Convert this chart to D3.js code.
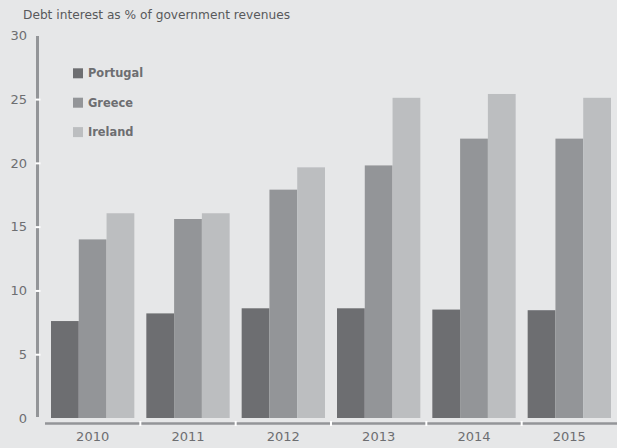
<!DOCTYPE html>
<html>
<head>
<meta charset="utf-8">
<script src="https://cdn.jsdelivr.net/npm/d3@7"></script>
<style>
  html, body { margin: 0; padding: 0; background: #e6e7e8; }
  svg { display: block; }
  text { font-family: "DejaVu Sans", sans-serif; }
</style>
</head>
<body>
<svg id="chart" width="617" height="448"></svg>
<script>
// Debt interest as a share of government revenues, 2010–2015
const years = ["2010", "2011", "2012", "2013", "2014", "2015"];
const countries = ["Portugal", "Greece", "Ireland"];
const portugal = [7.6, 8.2, 8.6, 8.6, 8.5, 8.45];
const greece   = [14.0, 15.6, 17.9, 19.8, 21.9, 21.9];
const ireland  = [16.05, 16.05, 19.65, 25.1, 25.4, 25.1];
const yTicks = [0, 5, 10, 15, 20, 25, 30];
const colors = ["#6d6e71", "#939598", "#bcbec0"];

const seriesValues = [portugal, greece, ireland];
const rows = years.map((y, i) => ({
  year: y,
  values: countries.map((c, j) => ({ country: c, value: seriesValues[j][i] }))
}));

const W = 617, H = 448;
const svg = d3.select("#chart");
svg.append("rect").attr("width", W).attr("height", H).attr("fill", "#e6e7e8");

const x0 = d3.scaleBand().domain(years).range([45, 617]).paddingInner(0).paddingOuter(0);
const x1 = d3.scaleBand().domain(countries).range([0, x0.bandwidth()]).paddingOuter(0.216).paddingInner(0);
const y = d3.scaleLinear().domain([0, 30]).range([418, 35.3]);

// Title
svg.append("text")
  .attr("x", 23).attr("y", 19)
  .attr("font-size", 12.2)
  .attr("fill", "#58595b")
  .text("Debt interest as % of government revenues");

// Bars
const groups = svg.append("g").selectAll("g").data(rows).join("g")
  .attr("transform", d => `translate(${x0(d.year)},0)`);
groups.selectAll("rect").data(d => d.values).join("rect")
  .attr("x", d => x1(d.country))
  .attr("width", x1.bandwidth())
  .attr("y", d => y(d.value))
  .attr("height", d => y(0) - y(d.value))
  .attr("fill", (d, i) => colors[i]);

// Y axis: thick grey rule with white tick notches
svg.append("line")
  .attr("x1", 37.5).attr("x2", 37.5)
  .attr("y1", 36).attr("y2", 417)
  .attr("stroke", "#939598").attr("stroke-width", 3);
const yAxis = d3.axisLeft(y).tickValues(yTicks).tickSize(0).tickPadding(10);
const yg = svg.append("g").attr("transform", "translate(37.5,0)").call(yAxis);
yg.select(".domain").remove();
yg.selectAll("text")
  .attr("font-size", 13)
  .attr("fill", "#6d6e71")
  .attr("font-family", "DejaVu Sans, sans-serif")
  .attr("x", -10.5);
yg.selectAll(".tick").filter(d => d > 0 && d < 30).append("rect")
  .attr("x", -2).attr("y", -1).attr("width", 5).attr("height", 2)
  .attr("fill", "#ffffff");

// X axis: grey baseline with white separators between years
svg.append("line")
  .attr("x1", 45).attr("x2", 617)
  .attr("y1", 423.5).attr("y2", 423.5)
  .attr("stroke", "#939598").attr("stroke-width", 2.5);
const xAxis = d3.axisBottom(x0).tickSize(0).tickPadding(0);
const xg = svg.append("g").attr("transform", "translate(0,428)").call(xAxis);
xg.select(".domain").remove();
xg.selectAll("text")
  .attr("font-size", 13)
  .attr("fill", "#6d6e71")
  .attr("font-family", "DejaVu Sans, sans-serif")
  .attr("dy", "1em");
svg.append("g").selectAll("rect").data(years.slice(1)).join("rect")
  .attr("x", d => x0(d) - 1).attr("y", 421).attr("width", 2).attr("height", 5)
  .attr("fill", "#ffffff");

// Legend
const legend = svg.append("g").selectAll("g").data(countries).join("g")
  .attr("transform", (d, i) => `translate(73,${73.3 + i * 29.4})`);
legend.append("rect")
  .attr("x", 0).attr("y", -5).attr("width", 10).attr("height", 10)
  .attr("fill", (d, i) => colors[i]);
legend.append("text")
  .attr("x", 15).attr("y", 0).attr("dy", "0.36em")
  .attr("font-size", 11.4)
  .attr("font-weight", "bold")
  .attr("fill", "#6d6e71")
  .text(d => d);
</script>
</body>
</html>
